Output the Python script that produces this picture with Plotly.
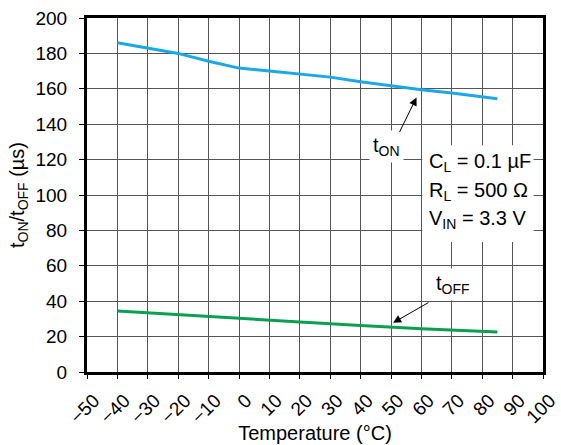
import plotly.graph_objects as go

# Switching time vs. temperature
temps_on = [-40, -30, -20, -10, 0, 10, 20, 30, 40, 50, 60, 70, 80, 85]
t_on = [186, 183, 180, 175.6, 171.7, 170, 168.5, 166.6, 164, 161.7, 159.5, 157.6, 155.3, 154.4]

temps_off = [-40, -20, 0, 20, 40, 60, 85]
t_off = [34.5, 32.3, 30.2, 28.3, 26.3, 24.4, 22.6]

x_ticks = list(range(-50, 101, 10))
y_ticks = list(range(0, 201, 20))

conditions = ["C<sub>L</sub> = 0.1 µF", "R<sub>L</sub> = 500 Ω", "V<sub>IN</sub> = 3.3 V"]
condition_y = [118.5, 102.2, 86.2]

FONT = "Liberation Sans, Arial, Helvetica, sans-serif"
TXT = 20

fig = go.Figure()
fig.add_trace(go.Scatter(x=temps_on, y=t_on, mode="lines",
                         line=dict(color="#1aa9e8", width=3), name="tON"))
fig.add_trace(go.Scatter(x=temps_off, y=t_off, mode="lines",
                         line=dict(color="#0aa050", width=3), name="tOFF"))

# white panel behind the test conditions, hiding the grid
fig.add_shape(type="rect", x0=60.3, x1=96.9, y0=73.5, y1=128.1,
              fillcolor="white", line=dict(width=0), layer="between")

for txt, yy in zip(conditions, condition_y):
    fig.add_annotation(x=61.9, y=yy, text=txt, showarrow=False,
                       xanchor="left", yanchor="middle",
                       font=dict(size=TXT, color="black", family=FONT))

# curve labels
fig.add_annotation(x=48.5, y=127.5, text="t<sub>ON</sub>", showarrow=False,
                   bgcolor="white", borderpad=3,
                   font=dict(size=TXT, color="black", family=FONT))
fig.add_annotation(x=70.3, y=49.2, text="t<sub>OFF</sub>", showarrow=False,
                   bgcolor="white", borderpad=3,
                   font=dict(size=TXT, color="black", family=FONT))

# pointer arrows
fig.add_annotation(x=58.4, y=155.1, ax=52.55, ay=134.7, axref="x", ayref="y",
                   text="", showarrow=True, arrowhead=2, arrowsize=1.6,
                   arrowwidth=1, arrowcolor="black", standoff=0)
fig.add_annotation(x=50.7, y=27.8, ax=62.8, ay=39.7, axref="x", ayref="y",
                   text="", showarrow=True, arrowhead=2, arrowsize=1.6,
                   arrowwidth=1, arrowcolor="black", standoff=0)

fig.update_layout(
    width=561, height=445,
    margin=dict(l=87, r=18, t=18, b=73),
    plot_bgcolor="white", paper_bgcolor="white",
    showlegend=False,
    font=dict(family=FONT, size=19, color="black"),
)
fig.update_xaxes(
    range=[-50, 100], tickvals=x_ticks, tickangle=-45,
    tickfont=dict(size=19),
    ticklabelshift=7, ticklabelstandoff=3, ticklabeloverflow="allow",
    automargin=False,
    showgrid=True, gridcolor="#555", gridwidth=1,
    showline=True, linecolor="black", linewidth=3, mirror=True,
    ticks="outside", ticklen=4, tickcolor="black",
    zeroline=False,
    title=dict(text="Temperature (°C)", font=dict(size=TXT), standoff=0),
)
fig.update_yaxes(
    range=[0, 200], tickvals=y_ticks,
    tickfont=dict(size=19),
    ticklabelstandoff=8,
    automargin=False,
    showgrid=True, gridcolor="#555", gridwidth=1,
    showline=True, linecolor="black", linewidth=3, mirror=True,
    ticks="outside", ticklen=5, tickcolor="black",
    zeroline=False,
    title=dict(text="t<sub>ON</sub>/t<sub>OFF</sub> (µs)", font=dict(size=TXT), standoff=6),
)

fig.write_html("out.html")
